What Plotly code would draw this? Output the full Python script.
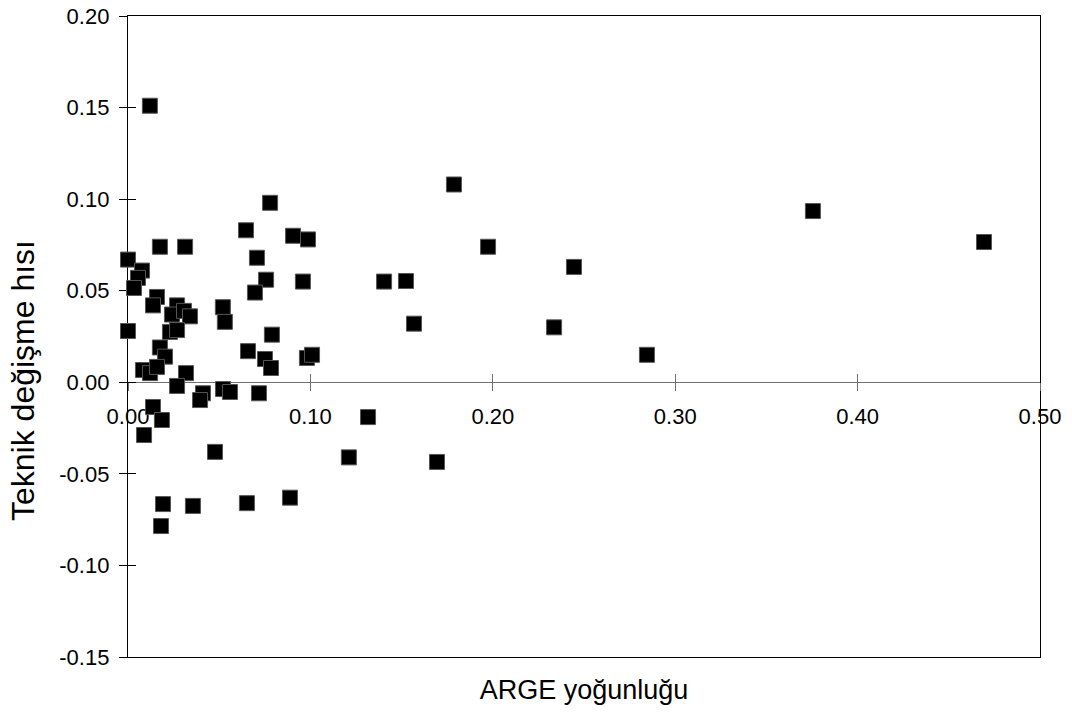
import plotly.graph_objects as go

# ---- data ----
arge_yogunlugu = [0.012, 0.000, 0.0077, 0.0055, 0.0033, 0.0175, 0.0313, 0.0647, 0.0779, 0.0905,
                  0.0987, 0.0707, 0.0757, 0.0696, 0.0959, 0.0159, 0.0137, 0.0269, 0.0241, 0.0307,
                  0.0340, 0.0520, 0.0531, 0.000, 0.0230, 0.0269, 0.0175, 0.0203, 0.0082, 0.0121,
                  0.0159, 0.0318, 0.0789, 0.0658, 0.0751, 0.0784, 0.0981, 0.1009, 0.0269, 0.0411,
                  0.0395, 0.0521, 0.0559, 0.0718, 0.0137, 0.0186, 0.0088, 0.0477, 0.1211, 0.1316,
                  0.1694, 0.0192, 0.0356, 0.0652, 0.0888, 0.0181, 0.1787, 0.1974, 0.2445, 0.1404,
                  0.1524, 0.1568, 0.2336, 0.2845, 0.3755, 0.4693]
teknik_degisme = [0.151, 0.067, 0.061, 0.057, 0.0515, 0.074, 0.074, 0.083, 0.098, 0.080,
                  0.078, 0.068, 0.056, 0.049, 0.055, 0.0466, 0.042, 0.042, 0.037, 0.039,
                  0.036, 0.041, 0.033, 0.028, 0.0275, 0.0285, 0.019, 0.014, 0.0067, 0.005,
                  0.0084, 0.005, 0.026, 0.017, 0.0127, 0.0078, 0.0133, 0.015, -0.002, -0.006,
                  -0.0097, -0.0037, -0.0053, -0.006, -0.0135, -0.0206, -0.0288, -0.038, -0.041, -0.019,
                  -0.0435, -0.0665, -0.0675, -0.066, -0.063, -0.0785, 0.108, 0.074, 0.063, 0.055,
                  0.0553, 0.032, 0.030, 0.015, 0.0935, 0.0766]

x_tick_vals = [0.0, 0.1, 0.2, 0.3, 0.4, 0.5]
x_tick_text = ["0.00", "0.10", "0.20", "0.30", "0.40", "0.50"]
y_tick_vals = [-0.15, -0.10, -0.05, 0.0, 0.05, 0.10, 0.15, 0.20]
y_tick_text = ["-0.15", "-0.10", "-0.05", "0.00", "0.05", "0.10", "0.15", "0.20"]

x_title = "ARGE yoğunluğu"
y_title = "Teknik değişme hısı"

X_RANGE = [0, 0.5]
Y_RANGE = [-0.15, 0.20]
FONT = "Liberation Sans, Arial, sans-serif"
TICK_FS = 22
XT_FS = 27
YT_FS = 32

W, H = 1072, 722
ML, MR, MT, MB = 128, 32, 16, 65

fig = go.Figure()
fig.add_trace(go.Scatter(
    x=arge_yogunlugu, y=teknik_degisme, mode="markers",
    marker=dict(symbol="square", size=15, color="black",
                line=dict(color="#555555", width=1)),
    cliponaxis=False, showlegend=False, hoverinfo="x+y",
))

zero_pos = (0 - Y_RANGE[0]) / (Y_RANGE[1] - Y_RANGE[0])
plot_w = W - ML - MR
plot_h = H - MT - MB

fig.update_layout(
    width=W, height=H,
    margin=dict(l=ML, r=MR, t=MT, b=MB, autoexpand=False),
    paper_bgcolor="white", plot_bgcolor="white",
    font=dict(family=FONT, size=TICK_FS, color="black"),
    xaxis=dict(range=X_RANGE, showline=True, linecolor="black", linewidth=1.3,
               mirror=True, ticks="", showticklabels=False, showgrid=False,
               zeroline=False, layer="below traces", automargin=False,
               title=dict(text=x_title, standoff=22, font=dict(size=XT_FS))),
    yaxis=dict(range=Y_RANGE, showline=True, linecolor="black", linewidth=1.3,
               mirror=True, ticks="outside", ticklen=8, tickcolor="black",
               tickvals=y_tick_vals, ticktext=y_tick_text, showgrid=False,
               zeroline=True, zerolinecolor="#707070", zerolinewidth=1.3,
               ticklabeloverflow="allow", ticklabelstandoff=5,
               layer="below traces", automargin=False),
    yaxis2=dict(range=Y_RANGE, overlaying="y", anchor="x", side="left",
                ticks="inside", ticklen=8, tickcolor="black", automargin=False,
                tickvals=y_tick_vals, showticklabels=False, showgrid=False,
                zeroline=False, showline=False, layer="below traces"),
    xaxis2=dict(range=X_RANGE, overlaying="x", anchor="free", position=zero_pos,
                side="bottom", ticks="outside", ticklen=8, tickcolor="#707070",
                tickvals=x_tick_vals, ticktext=x_tick_text, showgrid=False,
                ticklabelstandoff=6, ticklabeloverflow="allow",
                zeroline=False, showline=False, layer="below traces", automargin=False),
    xaxis3=dict(range=X_RANGE, overlaying="x", anchor="free", position=zero_pos,
                side="bottom", ticks="inside", ticklen=8, tickcolor="#707070",
                tickvals=x_tick_vals, showticklabels=False, showgrid=False,
                zeroline=False, showline=False, layer="below traces", automargin=False),
    annotations=[dict(
        text=y_title, textangle=-90, showarrow=False,
        xref="paper", yref="paper",
        x=(23 - ML) / plot_w, y=(657 - 381) / plot_h,
        xanchor="center", yanchor="middle",
        font=dict(size=YT_FS, family=FONT, color="black"),
    )],
)

fig.add_trace(go.Scatter(x=[X_RANGE[0]], y=[Y_RANGE[0]], xaxis="x2", yaxis="y",
                         mode="markers", marker=dict(opacity=0), showlegend=False, hoverinfo="skip"))
fig.add_trace(go.Scatter(x=[X_RANGE[0]], y=[Y_RANGE[0]], xaxis="x3", yaxis="y2",
                         mode="markers", marker=dict(opacity=0), showlegend=False, hoverinfo="skip"))

# remove the default 8px page margin so the 1072x722 figure fills the window exactly
fig.write_html("out.html", config={"displayModeBar": False},
               post_script="document.body.style.margin='0';")
